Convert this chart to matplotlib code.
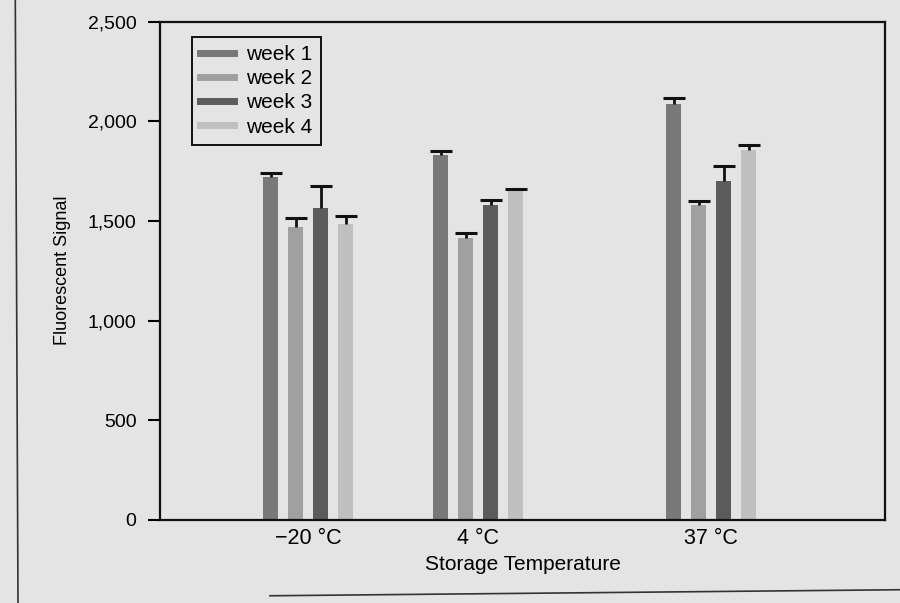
import matplotlib
matplotlib.use("Agg")
import matplotlib.pyplot as plt
from matplotlib.lines import Line2D
from matplotlib.ticker import FuncFormatter

plt.rcParams['font.family'] = ['Liberation Sans', 'DejaVu Sans']

# data
temps = ["\u221220 \u00b0C", "4 \u00b0C", "37 \u00b0C"]
group_pos = [0.87, 1.87, 3.24]
weeks = ["week 1", "week 2", "week 3", "week 4"]
week1 = [1720, 1830, 2085]
week2 = [1470, 1415, 1580]
week3 = [1565, 1580, 1700]
week4 = [1485, 1655, 1855]
err1 = [20, 20, 30]
err2 = [45, 25, 20]
err3 = [110, 25, 75]
err4 = [40, 5, 25]

series = [week1, week2, week3, week4]
errors = [err1, err2, err3, err4]
colors = ["#787878", "#a0a0a0", "#5c5c5c", "#c0c0c0"]
bg = "#e4e4e4"

fig = plt.figure(figsize=(9, 6.03), dpi=100, facecolor=bg)
ax = fig.add_axes([0.178, 0.138, 0.805, 0.826], facecolor=bg)

step = 0.147
width = 0.09
for i, (vals, errs) in enumerate(zip(series, errors)):
    xs = [g + (i - 1.5) * step for g in group_pos]
    tops = [v + e for v, e in zip(vals, errs)]
    ax.bar(xs, vals, width=width, color=colors[i], zorder=2)
    # only the upper half of the error bar is drawn
    ax.vlines(xs, vals, tops, color="#111111", lw=2, zorder=3)
    ax.plot(xs, tops, ls="none", marker="_", ms=16, mew=2.2,
            color="#111111", zorder=3)

ax.set_xlim(0, 4.26)
ax.set_ylim(0, 2500)
ax.set_yticks([0, 500, 1000, 1500, 2000, 2500])
ax.yaxis.set_major_formatter(FuncFormatter(lambda v, p: f"{int(v):,}"))
ax.set_xticks(group_pos)
ax.set_xticklabels(temps)
ax.tick_params(axis="x", length=0, pad=6, labelsize=15.5)
ax.tick_params(axis="y", direction="out", length=9, width=1.5, pad=8, labelsize=14)
for s in ax.spines.values():
    s.set_linewidth(1.6)
    s.set_color("#111111")

ax.set_ylabel("Fluorescent Signal", fontsize=13, labelpad=12)
ax.set_xlabel("Storage Temperature", fontsize=15, labelpad=4)

handles = [Line2D([0], [0], color=c, lw=5) for c in colors]
leg = ax.legend(handles, weeks, loc="upper left", bbox_to_anchor=(0.044, 0.97),
                borderaxespad=0, fontsize=15, handlelength=1.6,
                handletextpad=0.6, labelspacing=0.25, fancybox=False,
                framealpha=1, edgecolor="#111111", facecolor=bg, borderpad=0.4)
leg.get_frame().set_linewidth(1.4)

# scan border lines
fig.add_artist(Line2D([0.017, 0.02], [1.0, 0.0], color="#333333", lw=1.2))
fig.add_artist(Line2D([0.3, 1.0], [0.012, 0.022], color="#333333", lw=1.2))

fig.savefig("out.png", dpi=100, facecolor=bg)
